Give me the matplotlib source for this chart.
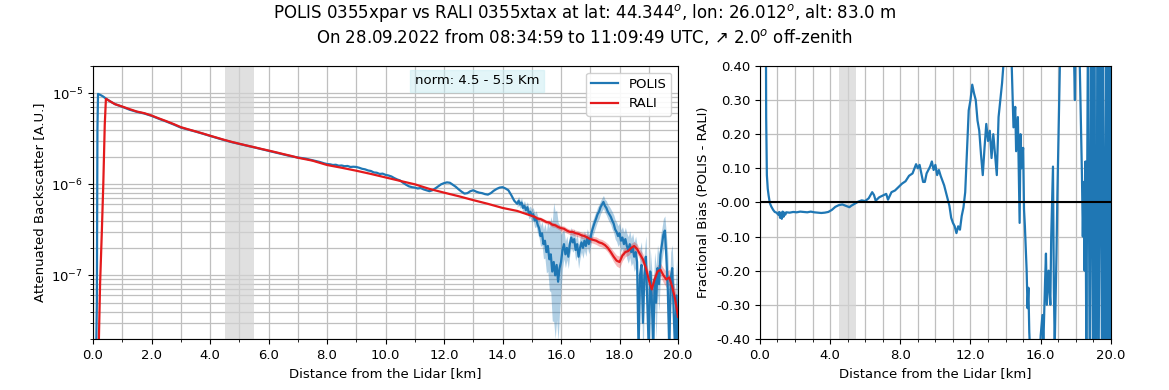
import numpy as np
import matplotlib
matplotlib.use("Agg")
import matplotlib.pyplot as plt
from matplotlib.ticker import MultipleLocator, FormatStrFormatter

# attenuated backscatter, values in units of 1e-6 A.U.
# POLIS, near range (to 14.45 km)
polis_km_near = [0.10, 0.13, 0.15, 0.17, 0.25, 0.35, 0.45, 0.6, 0.75, 1.0, 1.25, 1.5, 1.75, 2.0, 2.25,
                 2.5, 2.75, 3.0, 3.25, 3.5, 3.75, 4.0, 4.25, 4.5, 4.75, 5.0, 5.25, 5.5, 5.75, 6.0,
                 6.25, 6.5, 6.75, 7.0, 7.25, 7.5, 7.75,
                 7.8, 7.9, 8.0, 8.1, 8.2, 8.3, 8.4, 8.5, 8.6, 8.7, 8.8, 8.9, 9.0, 9.1, 9.2, 9.3, 9.4,
                 9.5, 9.6, 9.7, 9.8, 9.9, 10.0, 10.1, 10.2, 10.3, 10.4, 10.5, 10.6, 10.7, 10.8, 10.9,
                 11.0, 11.1, 11.2, 11.3, 11.4, 11.5, 11.6, 11.7, 11.8, 11.9, 12.0, 12.1, 12.2, 12.3,
                 12.4, 12.5, 12.6, 12.7, 12.8, 12.9, 13.0, 13.1, 13.2, 13.3, 13.4, 13.5, 13.6, 13.7,
                 13.8, 13.9, 14.0, 14.1, 14.2, 14.3, 14.4]
polis_val_near = [0.01, 0.05, 4.0, 9.85, 9.6, 9.2, 8.7, 8.1, 7.6, 7.1, 6.6, 6.25, 6.0, 5.65, 5.25,
                  4.9, 4.55, 4.2, 4.0, 3.8, 3.6, 3.4, 3.22, 3.05, 2.9, 2.78, 2.66, 2.55, 2.44, 2.34,
                  2.24, 2.14, 2.04, 1.97, 1.92, 1.84, 1.76,
                  1.74, 1.70, 1.67, 1.66, 1.63, 1.64, 1.60, 1.61, 1.58, 1.59, 1.55, 1.56, 1.55, 1.52,
                  1.48, 1.46, 1.42, 1.40, 1.35, 1.34, 1.30, 1.31, 1.27, 1.25, 1.22, 1.17, 1.13, 1.10,
                  1.04, 0.99, 0.95, 0.93, 0.92, 0.90, 0.91, 0.88, 0.86, 0.84, 0.86, 0.90, 0.95, 1.00,
                  1.03, 1.05, 1.04, 0.99, 0.94, 0.88, 0.83, 0.79, 0.80, 0.84, 0.86, 0.83, 0.81, 0.80,
                  0.78, 0.77, 0.80, 0.85, 0.89, 0.92, 0.93, 0.90, 0.86, 0.76, 0.66]
# POLIS, far range (14.5 - 20 km)
polis_km_far = [14.50, 14.55, 14.60, 14.65, 14.70, 14.75, 14.80, 14.85, 14.90, 14.95,
                15.00, 15.05, 15.10, 15.15, 15.20, 15.25, 15.30, 15.35, 15.40, 15.45,
                15.50, 15.55, 15.60, 15.65, 15.70, 15.75, 15.80, 15.85, 15.90, 15.95,
                16.00, 16.05, 16.10, 16.15, 16.20, 16.25, 16.30, 16.35, 16.40, 16.45,
                16.50, 16.55, 16.60, 16.65, 16.70, 16.75, 16.80, 16.85, 16.90, 16.95,
                17.00, 17.05, 17.10, 17.15, 17.20, 17.25, 17.30, 17.35, 17.40, 17.45,
                17.50, 17.55, 17.60, 17.65, 17.70, 17.75, 17.80, 17.85, 17.90, 17.95,
                18.00, 18.05, 18.10, 18.15, 18.20, 18.25, 18.30, 18.35, 18.40, 18.45,
                18.50, 18.55, 18.60, 18.65, 18.70, 18.75, 18.80, 18.85, 18.90, 18.95,
                19.00, 19.05, 19.10, 19.15, 19.20, 19.25, 19.30, 19.35, 19.40, 19.45,
                19.50, 19.55, 19.60, 19.65, 19.70, 19.75, 19.80, 19.85, 19.90, 19.95,
                20.00]
polis_val_far = [0.61, 0.66, 0.60, 0.63, 0.55, 0.58, 0.52, 0.56, 0.48, 0.50,
                 0.45, 0.47, 0.40, 0.42, 0.36, 0.33, 0.27, 0.29, 0.22, 0.24,
                 0.18, 0.21, 0.15, 0.17, 0.11, 0.14, 0.10, 0.13, 0.085, 0.12,
                 0.14, 0.19, 0.22, 0.17, 0.20, 0.16, 0.22, 0.26, 0.23, 0.25,
                 0.19, 0.22, 0.16, 0.20, 0.23, 0.20, 0.24, 0.21, 0.26, 0.22,
                 0.25, 0.30, 0.34, 0.38, 0.42, 0.47, 0.50, 0.56, 0.60, 0.64,
                 0.58, 0.55, 0.50, 0.47, 0.44, 0.40, 0.37, 0.32, 0.30, 0.27,
                 0.29, 0.24, 0.26, 0.22, 0.25, 0.21, 0.19, 0.22, 0.18, 0.20,
                 0.16, 0.18, 0.14, 0.015, 0.10, 0.13, 0.03, 0.10, 0.16, 0.05,
                 0.015, 0.11, 0.06, 0.015, 0.09, 0.05, 0.12, 0.08, 0.17, 0.22,
                 0.28, 0.31, 0.16, 0.07, 0.015, 0.09, 0.12, 0.04, 0.015, 0.06,
                 0.015]
# spread factor of the POLIS band over the far range
polis_spread = [1.10, 1.12, 1.10, 1.13, 1.12, 1.14, 1.13, 1.15, 1.15, 1.16,
                1.18, 1.18, 1.20, 1.22, 1.25, 1.28, 1.30, 1.35, 1.45, 1.55,
                1.70, 1.90, 2.20, 2.60, 3.50, 4.50, 5.00, 4.00, 4.50, 3.00,
                2.00, 1.60, 1.45, 1.40, 1.35, 1.35, 1.30, 1.30, 1.28, 1.30,
                1.32, 1.30, 1.35, 1.30, 1.28, 1.30, 1.28, 1.30, 1.25, 1.28,
                1.25, 1.25, 1.22, 1.22, 1.20, 1.20, 1.20, 1.18, 1.18, 1.18,
                1.18, 1.20, 1.20, 1.22, 1.22, 1.25, 1.25, 1.28, 1.28, 1.30,
                1.30, 1.32, 1.32, 1.35, 1.35, 1.38, 1.40, 1.40, 1.42, 1.45,
                1.45, 1.50, 1.55, 3.00, 2.00, 1.80, 3.00, 1.80, 1.70, 2.50,
                4.00, 1.80, 2.00, 4.00, 2.00, 2.50, 1.80, 2.00, 1.60, 1.50,
                1.50, 1.45, 1.80, 2.50, 4.00, 2.00, 1.80, 2.50, 4.00, 2.50,
                4.00]

# RALI, near range (to 14.5 km)
rali_km_near = [0.18, 0.24, 0.30, 0.35, 0.40, 0.44, 0.6, 0.75, 1.0, 1.25, 1.5, 1.75, 2.0, 2.25, 2.5,
                2.75, 3.0, 3.25, 3.5, 3.75, 4.0, 4.25, 4.5, 4.75, 5.0, 5.25, 5.5, 5.75, 6.0, 6.25,
                6.5, 6.75, 7.0, 7.5, 8.0, 8.5, 9.0, 9.5, 10.0, 10.5, 11.0, 11.5, 12.0, 12.5, 13.0,
                13.5, 14.0, 14.5]
rali_val_near = [0.01, 0.08, 0.3, 1.0, 4.5, 8.7, 8.1, 7.6, 7.15, 6.7, 6.3, 6.05, 5.7, 5.3, 4.95,
                 4.6, 4.25, 4.02, 3.82, 3.62, 3.42, 3.24, 3.07, 2.92, 2.79, 2.67, 2.56, 2.45, 2.35,
                 2.25, 2.15, 2.06, 1.96, 1.82, 1.63, 1.52, 1.41, 1.30, 1.19, 1.09, 1.00, 0.89, 0.81,
                 0.74, 0.67, 0.61, 0.55, 0.51]
# RALI, far range (15 - 20 km)
rali_km_far = [15.0, 15.1, 15.2, 15.3, 15.4, 15.5, 15.6, 15.7, 15.8, 15.9,
               16.0, 16.1, 16.2, 16.3, 16.4, 16.5, 16.6, 16.7, 16.8, 16.9,
               17.0, 17.1, 17.2, 17.3, 17.4, 17.5, 17.6, 17.7, 17.8, 17.9,
               18.0, 18.1, 18.2, 18.3, 18.4, 18.5, 18.6, 18.7, 18.8, 18.9,
               19.0, 19.1, 19.2, 19.3, 19.4, 19.5, 19.6, 19.7, 19.8, 19.9,
               20.0]
rali_val_far = [0.45, 0.44, 0.42, 0.415, 0.40, 0.385, 0.38, 0.36, 0.355, 0.34,
                0.33, 0.325, 0.31, 0.30, 0.30, 0.29, 0.285, 0.275, 0.27, 0.26,
                0.25, 0.245, 0.24, 0.23, 0.225, 0.215, 0.20, 0.18, 0.16, 0.145,
                0.14, 0.165, 0.18, 0.185, 0.20, 0.21, 0.195, 0.17, 0.15, 0.12,
                0.09, 0.07, 0.09, 0.11, 0.115, 0.10, 0.09, 0.095, 0.075, 0.055,
                0.035]
rali_spread = [1.04, 1.04, 1.05, 1.05, 1.05, 1.05, 1.06, 1.06, 1.06, 1.06,
               1.07, 1.07, 1.07, 1.07, 1.08, 1.08, 1.08, 1.08, 1.08, 1.09,
               1.09, 1.09, 1.10, 1.10, 1.10, 1.10, 1.11, 1.12, 1.14, 1.15,
               1.16, 1.14, 1.12, 1.12, 1.12, 1.12, 1.13, 1.14, 1.15, 1.17,
               1.20, 1.22, 1.20, 1.18, 1.18, 1.20, 1.22, 1.22, 1.25, 1.28,
               1.30]

# fractional bias (POLIS - RALI) / RALI
bias_km = [0.30, 0.34, 0.36, 0.40, 0.45, 0.50, 0.57, 0.65, 0.76, 0.85, 0.95, 1.05, 1.1, 1.15, 1.2,
           1.25, 1.3, 1.35, 1.4, 1.45, 1.5, 1.7, 1.9, 2.1, 2.3, 2.5, 2.7, 2.9, 3.1, 3.3, 3.5, 3.7,
           3.9, 4.1, 4.3, 4.5, 4.7, 4.9, 5.1, 5.2, 5.4, 5.6, 5.8, 6.0, 6.2, 6.4, 6.5, 6.6, 6.8,
           7.0, 7.2, 7.3, 7.5, 7.7, 7.9, 8.1, 8.3, 8.5, 8.7, 8.9, 9.0, 9.1, 9.2, 9.3, 9.4, 9.5,
           9.7, 9.8, 9.9, 10.0, 10.1, 10.2, 10.3, 10.5, 10.6, 10.8, 10.9, 11.0, 11.1, 11.2, 11.3,
           11.4, 11.5, 11.6, 11.7, 11.8, 11.9, 12.0, 12.1, 12.2, 12.3, 12.4, 12.5, 12.6, 12.7,
           12.8, 12.9, 13.0, 13.1, 13.2, 13.3, 13.4, 13.5, 13.6, 13.7, 13.8, 13.9, 14.0, 14.2,
           14.35, 14.45, 14.55, 14.6, 14.7, 14.8, 14.85, 14.9, 15.0, 15.05, 15.1, 15.2, 15.25,
           15.3, 15.35, 15.45, 15.6, 15.9, 16.0, 16.1, 16.15, 16.25, 16.3, 16.35, 16.45, 16.55,
           16.6, 16.7, 16.75, 16.8, 16.9, 16.95, 17.0, 17.1, 17.2, 17.5, 17.9, 17.95, 18.0, 18.15,
           18.3, 18.35, 18.4, 18.45, 18.5, 18.55, 18.6, 18.7, 18.8, 18.9, 19.0, 19.05, 19.15,
           19.25, 19.3, 19.4, 19.5, 19.55, 19.65, 19.75, 19.8, 19.9, 19.95, 20.0]
bias_val = [3.0, 0.6, 0.25, 0.08, 0.04, 0.02, -0.002, -0.012, -0.022, -0.028, -0.030, -0.036,
            -0.028, -0.045, -0.030, -0.048, -0.027, -0.042, -0.030, -0.036, -0.029, -0.030,
            -0.028, -0.029, -0.027, -0.028, -0.029, -0.027, -0.029, -0.030, -0.031, -0.030,
            -0.028, -0.022, -0.013, -0.008, -0.006, -0.010, -0.014, -0.010, -0.004, 0.002, 0.006,
            0.004, 0.012, 0.030, 0.022, 0.005, 0.015, 0.020, 0.025, 0.008, 0.030, 0.035, 0.045,
            0.055, 0.062, 0.078, 0.085, 0.112, 0.100, 0.110, 0.085, 0.060, 0.060, 0.085, 0.105,
            0.120, 0.095, 0.110, 0.080, 0.095, 0.078, 0.050, 0.030, -0.010, -0.045, -0.060,
            -0.070, -0.090, -0.070, -0.080, -0.040, -0.015, 0.030, 0.150, 0.270, 0.300, 0.345,
            0.320, 0.300, 0.240, 0.210, 0.140, 0.080, 0.160, 0.230, 0.180, 0.210, 0.130, 0.200,
            0.140, 0.080, 0.250, 0.300, 0.350, 0.420, 0.600, 0.600, 0.400, 0.220, 0.280, 0.150,
            0.250, -0.060, 0.200, 0.100, 0.160, -0.020, -0.070, -0.200, -0.310, -0.250, -0.380,
            -0.500, -0.600, -0.500, -0.390, -0.330, -0.420, -0.230, -0.150, -0.300, -0.200,
            -0.300, -0.100, 0.105, -0.250, -0.420, -0.150, 0.020, 0.150, 0.420, 0.600, 0.600,
            0.420, 0.300, 0.600, 0.600, 0.200, 0.080, -0.100, 0.060, -0.200, 0.120, -0.450,
            0.600, -0.600, 0.600, -0.600, 0.600, -0.600, 0.600, -0.500, 0.600, -0.600, 0.600,
            -0.600, 0.600, -0.600, 0.600, -0.600, 0.600]

bias_ticks = [-0.4, -0.3, -0.2, -0.1, 0.0, 0.1, 0.2, 0.3, 0.4]
bias_labels = ['-0.40', '-0.30', '-0.20', '-0.10', '-0.00', '0.10', '0.20', '0.30', '0.40']

norm_lo, norm_hi = 4.5, 5.5
blue = '#1f77b4'
red = '#e41a1c'

scale = 1e-6
polis_km = np.array(polis_km_near + polis_km_far)
polis = np.array(polis_val_near + polis_val_far) * scale
rali_km = np.array(rali_km_near + rali_km_far)
rali = np.array(rali_val_near + rali_val_far) * scale
pfar = np.array(polis_val_far) * scale
rfar = np.array(rali_val_far) * scale

fig = plt.figure(figsize=(11.69, 3.9), dpi=100)
ax1 = fig.add_axes([0.0796, 0.131, 0.5004, 0.70])
ax2 = fig.add_axes([0.650, 0.131, 0.3003, 0.70])

fig.suptitle('POLIS 0355xpar vs RALI 0355xtax at lat: 44.344$^o$, lon: 26.012$^o$, alt: 83.0 m\n'
             'On 28.09.2022 from 08:34:59 to 11:09:49 UTC, \u2197 2.0$^o$ off-zenith',
             fontsize=12, y=0.995)

# left panel: backscatter profiles
ax1.axvspan(norm_lo, norm_hi, color='lightgray', alpha=0.7, lw=0)
ax1.fill_between(polis_km_far, pfar / np.array(polis_spread), pfar * np.array(polis_spread),
                 color=blue, alpha=0.35, lw=0)
ax1.fill_between(rali_km_far, rfar / np.array(rali_spread), rfar * np.array(rali_spread),
                 color=red, alpha=0.3, lw=0)
ax1.plot(polis_km, polis, color=blue, lw=1.6, label='POLIS')
ax1.plot(rali_km, rali, color=red, lw=1.6, label='RALI')
ax1.set_yscale('log')
ax1.set_xlim(0, 20)
ax1.set_ylim(2e-8, 2e-5)
ax1.xaxis.set_major_locator(MultipleLocator(2))
ax1.xaxis.set_minor_locator(MultipleLocator(1))
ax1.xaxis.set_major_formatter(FormatStrFormatter('%.1f'))
ax1.grid(True, which='both', color='0.75', lw=0.9)
ax1.set_axisbelow(True)
ax1.set_xlabel('Distance from the Lidar [km]', fontsize=9.5)
ax1.set_ylabel('Attenuated Backscatter [A.U.]', fontsize=9.5)
ax1.tick_params(labelsize=9.5)
ax1.legend(loc='upper right', fontsize=9.5, framealpha=0.9)
ax1.text(0.656, 0.945, 'norm: %.1f - %.1f Km' % (norm_lo, norm_hi), transform=ax1.transAxes,
         ha='center', va='center', fontsize=9.5,
         bbox=dict(boxstyle='square,pad=0.35', facecolor='#c8ecf2', edgecolor='#c8ecf2', alpha=0.5))

# right panel: fractional bias
ax2.axvspan(norm_lo, norm_hi, color='lightgray', alpha=0.7, lw=0)
ax2.plot(bias_km, bias_val, color=blue, lw=1.6)
ax2.axhline(0, color='black', lw=1.5, zorder=3)
ax2.set_xlim(0, 20)
ax2.set_ylim(-0.4, 0.4)
ax2.xaxis.set_major_locator(MultipleLocator(4))
ax2.xaxis.set_minor_locator(MultipleLocator(1))
ax2.xaxis.set_major_formatter(FormatStrFormatter('%.1f'))
ax2.set_yticks(bias_ticks)
ax2.set_yticklabels(bias_labels)
ax2.grid(True, which='both', color='0.75', lw=0.9)
ax2.set_axisbelow(True)
ax2.set_xlabel('Distance from the Lidar [km]', fontsize=9.5)
ax2.set_ylabel('Fractional Bias (POLIS - RALI)', fontsize=9.5)
ax2.tick_params(labelsize=9.5)

fig.savefig('out.png', dpi=100)
